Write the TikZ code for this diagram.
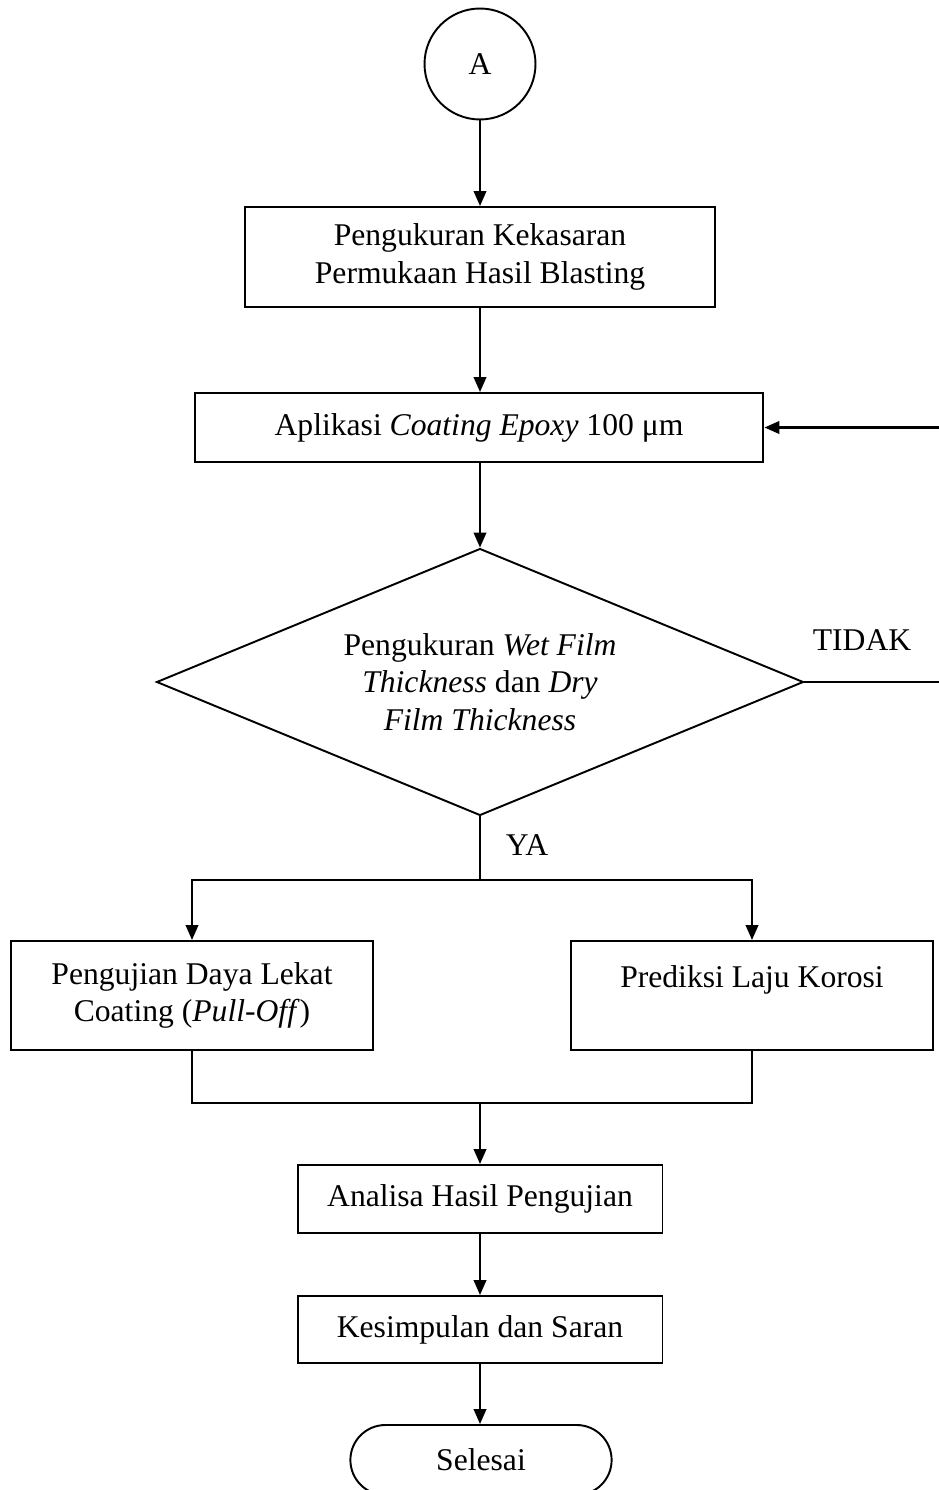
\documentclass[tikz,border=0pt]{standalone}
\usepackage{fontspec}
\setmainfont{Liberation Serif}
\usepackage{tikz}
\usetikzlibrary{arrows.meta,shapes.geometric,shapes.misc}

\tikzset{
  proses/.style={rectangle,draw,line width=1.1pt,align=center,inner sep=2pt},
  keputusan/.style={diamond,draw,line width=1.1pt,align=center,inner sep=0pt,aspect=2.42,
    minimum width=12.94cm,minimum height=5.34cm},
  terminal/.style={rounded rectangle,draw,line width=1.1pt,
    minimum width=5.46cm,minimum height=1.4cm},
  konektor/.style={circle,draw,line width=1.1pt,minimum size=2.22cm,inner sep=0pt},
  panah/.style={-{Triangle[length=0.3cm,width=0.25cm]},line width=1.3pt},
  garis/.style={line width=1.3pt}
}

\begin{document}
\begin{tikzpicture}[x=0.02cm,y=-0.02cm,font=\fontsize{18}{21.5}\selectfont]
  \useasboundingbox (0,0) rectangle (939,1490);

  \node[konektor] (a) at (480,64) {A};
  \node[proses,minimum width=9.42cm,minimum height=2cm] (kekasaran) at (480,257)
    {Pengukuran Kekasaran\\Permukaan Hasil Blasting};
  \node[proses,minimum width=11.38cm,minimum height=1.38cm] (aplikasi) at (479,427.5)
    {Aplikasi \textit{Coating Epoxy} 100 μm};
  \node[keputusan] (wft) at (480,682)
    {Pengukuran \textit{Wet Film}\\\textit{Thickness} dan \textit{Dry}\\\textit{Film Thickness}};
  \node[proses,minimum width=7.24cm,minimum height=2.18cm] (pulloff) at (192,995.5)
    {Pengujian Daya Lekat\\Coating (\textit{Pull-Off})};
  \node[proses,minimum width=7.24cm,minimum height=2.18cm] (korosi) at (752,995.5)
    {Prediksi Laju Korosi\\~};
  \node[proses,minimum width=7.3cm,minimum height=1.36cm] (analisa) at (480,1199)
    {Analisa Hasil Pengujian};
  \node[proses,minimum width=7.3cm,minimum height=1.34cm] (saran) at (480,1329.5)
    {Kesimpulan dan Saran};
  \node[terminal] (selesai) at (481,1460) {Selesai};

  \node (tidak) at (862,640) {TIDAK};
  \node (ya) at (527,845) {YA};

  \coordinate (cabang) at (480,880);
  \coordinate (gabung) at (480,1103);
  \coordinate (kanan1) at (939,682);
  \coordinate (kanan2) at (939,427.5);

  \draw[panah] (a) -- (kekasaran);
  \draw[panah] (kekasaran) -- (kekasaran|-aplikasi.north);
  \draw[panah] (aplikasi.south-|wft) -- (wft);
  \draw[garis] (wft.east) -- (kanan1);
  \draw[panah] (kanan2) -- (aplikasi.east);
  \draw[garis] (wft.south) -- (cabang);
  \draw[panah] (cabang) -| (pulloff.north);
  \draw[panah] (cabang) -| (korosi.north);
  \draw[garis] (pulloff.south) |- (gabung);
  \draw[garis] (korosi.south) |- (gabung);
  \draw[panah] (gabung) -- (analisa);
  \draw[panah] (analisa) -- (saran);
  \draw[panah] (saran) -- (selesai.north-|saran);
\end{tikzpicture}
\end{document}
